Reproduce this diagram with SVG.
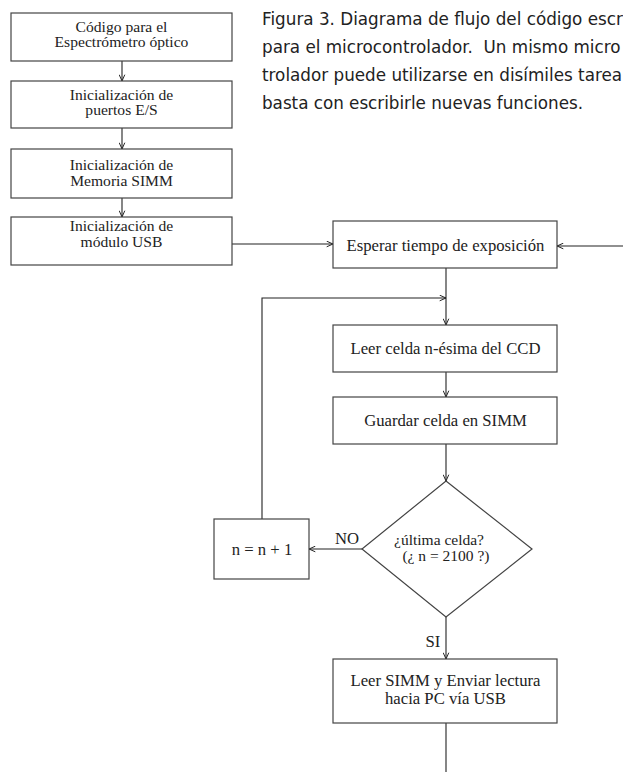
<svg xmlns="http://www.w3.org/2000/svg" width="623" height="772" viewBox="0 0 623 772">
<defs>
<marker id="arr" viewBox="0 0 10 10" refX="10" refY="5" markerWidth="7" markerHeight="7" markerUnits="userSpaceOnUse" orient="auto">
<path d="M1,1 L10,5 L1,9" fill="none" stroke="#222" stroke-width="1.4"/>
</marker>
<style>
.box{fill:#fff;stroke:#444;stroke-width:1.2}
.t{font-family:"Liberation Serif","Times New Roman",serif;font-size:16.7px;fill:#222;text-anchor:middle}
.s{font-size:15.6px}
.cap{font-family:"DejaVu Sans","Liberation Sans",sans-serif;font-size:16.8px;fill:#222}
.ln{fill:none;stroke:#222;stroke-width:1.1}
.ar{fill:none;stroke:#222;stroke-width:1.1;marker-end:url(#arr)}
</style>
</defs>
<rect width="623" height="772" fill="#fff"/>
<g id="caption">
<text class="cap" x="262" y="25">Figura 3. Diagrama de flujo del código escr</text>
<text class="cap" x="262" y="53" xml:space="preserve">para el microcontrolador.  Un mismo micro</text>
<text class="cap" x="262" y="81">trolador puede utilizarse en disímiles tarea</text>
<text class="cap" x="262" y="109" textLength="321">basta con escribirle nuevas funciones.</text>
</g>
<g id="connectors">
<line class="ar" x1="122" y1="61" x2="122" y2="81"/>
<line class="ar" x1="122" y1="128" x2="122" y2="149"/>
<line class="ar" x1="122" y1="198" x2="122" y2="217"/>
<line class="ar" x1="232" y1="244" x2="333" y2="244"/>
<line class="ar" x1="623" y1="246" x2="557" y2="246"/>
<line class="ar" x1="446" y1="268" x2="446" y2="325"/>
<polyline class="ar" points="262,519 262,298 446,298"/>
<line class="ar" x1="446" y1="372" x2="446" y2="397"/>
<line class="ar" x1="446" y1="444" x2="446" y2="481"/>
<line class="ar" x1="362" y1="549" x2="309" y2="549"/>
<line class="ar" x1="446" y1="617" x2="446" y2="659"/>
<line class="ln" x1="446" y1="723" x2="446" y2="772"/>
</g>
<g id="n1">
<rect class="box" x="11" y="13" width="221" height="48"/>
<text class="t s" x="121.5" y="31.5">Código para el</text>
<text class="t s" x="121.5" y="47">Espectrómetro óptico</text>
</g>
<g id="n2">
<rect class="box" x="11" y="81" width="221" height="47"/>
<text class="t s" x="121.5" y="99.5">Inicialización de</text>
<text class="t s" x="121.5" y="115">puertos E/S</text>
</g>
<g id="n3">
<rect class="box" x="11" y="149" width="221" height="49"/>
<text class="t s" x="121.5" y="169.5">Inicialización de</text>
<text class="t s" x="121.5" y="185.5">Memoria SIMM</text>
</g>
<g id="n4">
<rect class="box" x="11" y="217" width="221" height="48"/>
<text class="t s" x="121.5" y="230.5">Inicialización de</text>
<text class="t s" x="121.5" y="246.5">módulo USB</text>
</g>
<g id="n5">
<rect class="box" x="333" y="221" width="224" height="47"/>
<text class="t" x="445.5" y="251">Esperar tiempo de exposición</text>
</g>
<g id="n6">
<rect class="box" x="333" y="325" width="224" height="47"/>
<text class="t" x="445.5" y="354">Leer celda n-ésima del CCD</text>
</g>
<g id="n7">
<rect class="box" x="333" y="397" width="224" height="47"/>
<text class="t" x="445.5" y="426">Guardar celda en SIMM</text>
</g>
<g id="n8">
<polygon class="box" points="446,481 532,549 446,617 362,549"/>
<text class="t" x="439" y="545" style="font-size:15.5px">¿última celda?</text>
<text class="t" x="446" y="561" style="font-size:15.5px">(¿ n = 2100 ?)</text>
</g>
<g id="n9">
<rect class="box" x="214" y="519" width="95" height="60"/>
<text class="t" x="262" y="555">n = n + 1</text>
</g>
<g id="n10">
<rect class="box" x="333" y="659" width="224" height="64"/>
<text class="t" x="445.5" y="686">Leer SIMM y Enviar lectura</text>
<text class="t" x="445.5" y="704">hacia PC vía USB</text>
</g>
<g id="labels">
<text class="t" x="347" y="544">NO</text>
<text class="t" x="433" y="647">SI</text>
</g>
</svg>
